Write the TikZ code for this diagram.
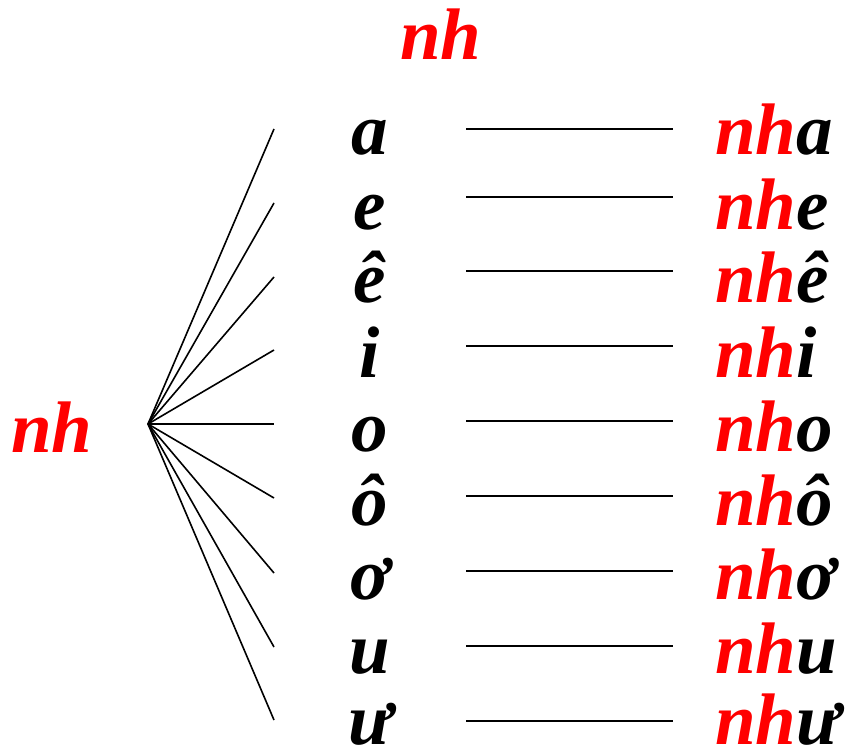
\documentclass[tikz,border=0pt]{standalone}
\usepackage{fontspec}
\setmainfont{Liberation Serif}
\begin{document}
\begin{tikzpicture}[x=1pt,y=-1pt,
  lbl/.style={inner sep=0pt,text depth=0pt,font=\fontsize{73}{86}\selectfont\bfseries\itshape},
  redlbl/.style={lbl,text=red},
  conn/.style={line width=1.6pt,black}]
\useasboundingbox (0,0) rectangle (854,751);
\node[redlbl,anchor=base] (top) at (441,60) {nh};
\node[redlbl,anchor=base west] (left) at (11,452) {nh};
\coordinate (o) at (148,424);
\foreach \i/\v/\b/\fy/\hy in {1/a/155/129/129, 2/e/230/203/197, 3/ê/302/277/271, 4/i/377/350/346, 5/o/451/424/421, 6/ô/525/498/496, 7/ơ/599/573/571, 8/u/673/647/646, 9/ư/744/720/721}{
  \node[lbl,anchor=base] (m\i) at (370,\b) {\v};
  \node[lbl,anchor=base west] (r\i) at (715,\b) {\textcolor{red}{nh}\v};
  \coordinate (f\i) at (274,\fy);
  \coordinate (hl\i) at (466,\hy);
  \coordinate (hr\i) at (673,\hy);
  \draw[conn] (o) -- (f\i);
  \draw[conn] (hl\i) -- (hr\i);
}
\end{tikzpicture}
\end{document}
